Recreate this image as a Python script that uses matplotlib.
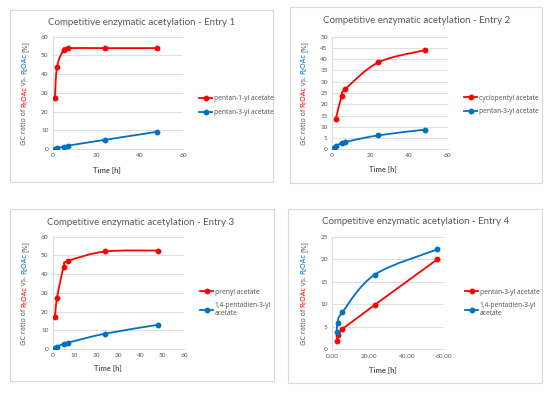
import matplotlib
matplotlib.use("Agg")
import matplotlib.pyplot as plt
from matplotlib.path import Path
from matplotlib.patches import PathPatch, Rectangle
from matplotlib.lines import Line2D
from matplotlib.transforms import IdentityTransform

plt.rcParams['font.family'] = ['Lato', 'DejaVu Sans']

RED = '#FF0000'
BLUE = '#0070C0'
GRAY = '#595959'
GRID = '#D9D9D9'

# data
e1_x = [1, 2, 5, 7, 24, 48]
e1_red = [27.0, 44.0, 53.0, 53.9, 53.9, 53.9]
e1_blue = [0.2, 0.4, 1.3, 1.8, 4.9, 9.2]

e2_red_x = [2, 5, 7, 24, 48]
e2_red = [13.6, 23.7, 26.8, 38.6, 44.0]
e2_blue_x = [1, 2, 5, 7, 24, 48]
e2_blue = [0.7, 1.4, 2.8, 3.3, 6.2, 8.7]

e3_x = [1, 2, 5, 7, 24, 48]
e3_red = [17.2, 27.5, 43.8, 47.0, 52.1, 52.6]
e3_blue = [0.7, 1.2, 2.8, 3.4, 8.2, 12.9]

e4_x = [2.5, 3, 5.5, 23, 56.5]
e4_red = [1.8, 3.1, 4.5, 9.9, 20.0]
e4_blue = [3.9, 5.9, 8.2, 16.6, 22.2]

titles = ["Competitive enzymatic acetylation - Entry 1",
          "Competitive enzymatic acetylation - Entry 2",
          "Competitive enzymatic acetylation - Entry 3",
          "Competitive enzymatic acetylation - Entry 4"]
legend_labels = [["pentan-1-yl acetate", "pentan-3-yl acetate"],
                 ["cyclopentyl acetate", "pentan-3-yl acetate"],
                 ["prenyl acetate", "1,4-pentadien-3-yl\nacetate"],
                 ["pentan-3-yl acetate", "1,4-pentadien-3-yl\nacetate"]]
e4_xticklabels = ["0,00", "20,00", "40,00", "60,00"]

W, H = 550, 393
fig = plt.figure(figsize=(5.5, 3.93), dpi=100)


def px_rect(l, t, r, b):
    return [l / W, 1 - b / H, (r - l) / W, (b - t) / H]


def smooth_line(ax, xs, ys, color):
    # excel style smoothed line: cubic bezier through the points
    pts = list(zip(xs, ys))
    n = len(pts)
    verts = [pts[0]]
    codes = [Path.MOVETO]
    for i in range(n - 1):
        p0 = pts[i - 1] if i > 0 else pts[i]
        p1 = pts[i]
        p2 = pts[i + 1]
        p3 = pts[i + 2] if i + 2 < n else pts[i + 1]
        c1 = (p1[0] + (p2[0] - p0[0]) / 6, p1[1] + (p2[1] - p0[1]) / 6)
        c2 = (p2[0] - (p3[0] - p1[0]) / 6, p2[1] - (p3[1] - p1[1]) / 6)
        verts += [c1, c2, p2]
        codes += [Path.CURVE4] * 3
    ax.add_patch(PathPatch(Path(verts, codes), fill=False, edgecolor=color,
                           lw=1.3, capstyle='round', joinstyle='round', zorder=3))
    ax.plot(xs, ys, 'o', color=color, ms=3.2, zorder=4)


def straight_line(ax, xs, ys, color):
    ax.plot(xs, ys, '-o', color=color, lw=1.3, ms=3.2, zorder=4)


def style_axes(ax, xmax, ymax, xstep, ystep):
    ax.set_xlim(0, xmax)
    ax.set_ylim(0, ymax)
    ax.set_xticks(range(0, xmax + 1, xstep))
    ax.set_yticks(range(0, ymax + 1, ystep))
    ax.grid(axis='y', color=GRID, lw=0.6)
    ax.set_axisbelow(True)
    for s in ['top', 'right']:
        ax.spines[s].set_visible(False)
    for s in ['left', 'bottom']:
        ax.spines[s].set_color(GRID)
        ax.spines[s].set_linewidth(0.7)
    ax.tick_params(length=0, labelsize=4.6, labelcolor=GRAY, pad=3)


YL_PARTS = [("GC ratio of", GRAY), ("R\u2081OAc", RED), ("vs.", GRAY),
            ("R\u2082OAc", BLUE), ("[%]", GRAY)]


def ylabel_multicolor(x, yc, size=5.2, gap=1.5):
    # rotated label built from pieces, placed one after another
    kw = dict(fontsize=size, fontweight='bold', rotation=90,
              family=['Noto Sans', 'DejaVu Sans'],
              rotation_mode='anchor', ha='left', va='baseline',
              transform=IdentityTransform())
    renderer = fig.canvas.get_renderer()
    texts = [fig.text(0, 0, s, color=c, **kw) for s, c in YL_PARTS]
    lens = [t.get_window_extent(renderer).height for t in texts]
    total = sum(lens) + gap * (len(lens) - 1)
    y = (H - yc) - total / 2
    for t, ln in zip(texts, lens):
        t.set_position((x, y))
        y += ln + gap


panels = [
    dict(box=(10, 10, 273, 182), ax=(52.7, 36.7, 183.3, 149), title=(141.5, 22.7),
         xl=(107, 170), yl=(26.5, 93), leg=(199, 105.8)),
    dict(box=(290, 7, 542, 183), ax=(332, 36.7, 447.7, 149.3), title=(416.3, 20.7),
         xl=(382.7, 169.3), yl=(305.5, 93), leg=(464, 105)),
    dict(box=(10, 209, 274, 381), ax=(52.7, 236.7, 184, 349), title=(141, 222),
         xl=(107.8, 368), yl=(26.5, 293), leg=(200, 303)),
    dict(box=(288, 209, 542, 383), ax=(332, 236.7, 444, 349.3), title=(416, 221),
         xl=(382.8, 370), yl=(305.5, 293), leg=(465, 303)),
]

axes = []
for i, p in enumerate(panels):
    l, t, r, b = p['box']
    fig.patches.append(Rectangle((l / W, 1 - b / H), (r - l) / W, (b - t) / H,
                                 transform=fig.transFigure, facecolor='white',
                                 edgecolor=GRID, lw=0.8, zorder=-5))
    ax = fig.add_axes(px_rect(*p['ax']))
    ax.patch.set_alpha(0)
    axes.append(ax)
    fig.text(p['title'][0] / W, 1 - p['title'][1] / H, titles[i], ha='center',
             va='center', fontsize=7.0, color=GRAY)
    fig.text(p['xl'][0] / W, 1 - p['xl'][1] / H, "Time [h]", ha='center',
             va='center', fontsize=5.4, color=GRAY, fontweight='bold')

ax1, ax2, ax3, ax4 = axes

smooth_line(ax1, e1_x, e1_red, RED)
smooth_line(ax1, e1_x, e1_blue, BLUE)
style_axes(ax1, 60, 60, 20, 10)

smooth_line(ax2, e2_red_x, e2_red, RED)
smooth_line(ax2, e2_blue_x, e2_blue, BLUE)
style_axes(ax2, 60, 50, 20, 5)

smooth_line(ax3, e3_x, e3_red, RED)
smooth_line(ax3, e3_x, e3_blue, BLUE)
style_axes(ax3, 60, 60, 10, 10)

straight_line(ax4, e4_x, e4_red, RED)
smooth_line(ax4, e4_x, e4_blue, BLUE)
style_axes(ax4, 60, 25, 20, 5)
ax4.set_xticklabels(e4_xticklabels)

for i, p in enumerate(panels):
    handles = [Line2D([], [], color=RED, marker='o', lw=1.3, ms=3.2),
               Line2D([], [], color=BLUE, marker='o', lw=1.3, ms=3.2)]
    fig.legend(handles, legend_labels[i], loc='center left',
               bbox_to_anchor=(p['leg'][0] / W, 1 - p['leg'][1] / H),
               frameon=False, labelcolor=GRAY, handlelength=2.0,
               handletextpad=0.2, borderpad=0, borderaxespad=0, labelspacing=1.0,
               prop={'family': ['Noto Sans', 'DejaVu Sans'], 'size': 4.8})

fig.canvas.draw()
for p in panels:
    ylabel_multicolor(p['yl'][0], p['yl'][1])

fig.savefig("out.png", dpi=100)
